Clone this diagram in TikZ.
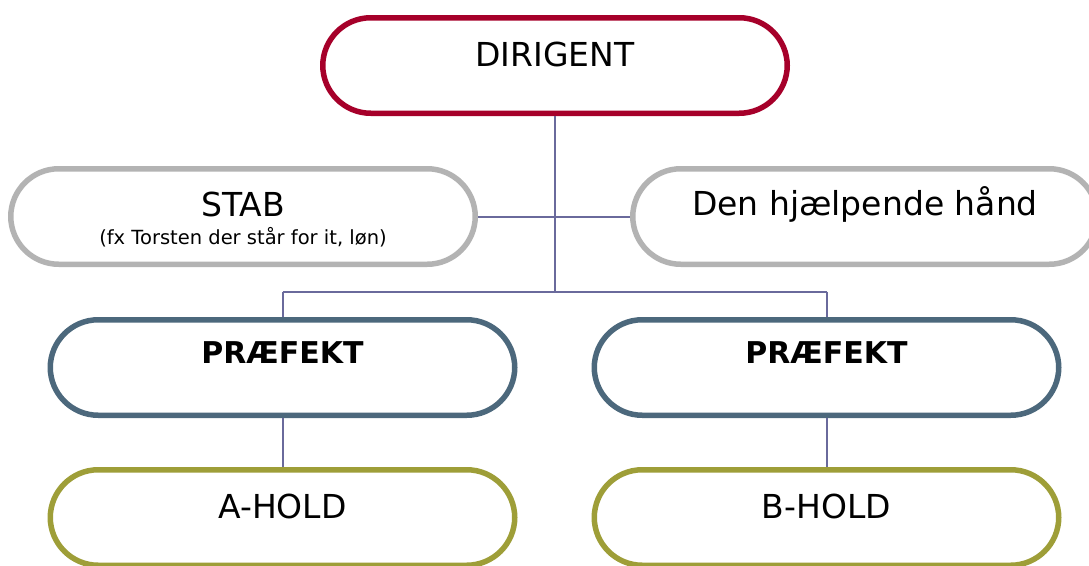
\documentclass[tikz,border=0pt]{standalone}
\usepackage{fontspec}
\setmainfont{DejaVu Sans}
\usepackage{tikz}
\usetikzlibrary{positioning}
\definecolor{dirred}{HTML}{A6002A}
\definecolor{stabgray}{HTML}{B3B3B3}
\definecolor{prefblue}{HTML}{4C687C}
\definecolor{holdolive}{HTML}{9E9E38}
\definecolor{linkpurple}{HTML}{6A6A9C}
\tikzset{
  box/.style={draw,fill=white,line width=5.5pt,rounded corners=48pt,
    minimum width=464.5pt,minimum height=95.5pt,inner sep=0pt},
  big/.style={font=\fontsize{33}{38}\selectfont,inner sep=0pt},
  bold/.style={font=\fontsize{30}{35}\selectfont\bfseries,inner sep=0pt},
  small/.style={font=\fontsize{19.5}{22}\selectfont,inner sep=0pt},
  link/.style={draw=linkpurple,line width=2pt}
}
\begin{document}
\begin{tikzpicture}[x=1pt,y=-1pt]
        \useasboundingbox (0,0) rectangle (1089,565);
        \clip (0,0) rectangle (1089,565);

        \node[box,draw=dirred] (dir) at (555,65.5) {};
        \node[box,draw=stabgray] (stab) at (243,216.5) {};
        \node[box,draw=stabgray] (help) at (865,216.5) {};
        \node[box,draw=prefblue] (pl) at (282.5,367.5) {};
        \node[box,draw=prefblue] (pr) at (826.5,367.5) {};
        \node[box,draw=holdolive] (ah) at (282.5,517.5) {};
        \node[box,draw=holdolive] (bh) at (826.5,517.5) {};
        \coordinate (bus) at (555,291.5);

        \node[big] (dirtext) at (555,54) {DIRIGENT};
        \node[big] (stabtext) at (243,204) {STAB};
        \node[small] (stabsub) at (243,237) {(fx Torsten der står for it, løn)};
        \node[big] (helptext) at (865,204) {Den hjælpende hånd};
        \node[bold] (pltext) at (282.5,353) {PRÆFEKT};
        \node[bold] (prtext) at (826.5,353) {PRÆFEKT};
        \node[big] (ahtext) at (282.5,506.5) {A-HOLD};
        \node[big] (bhtext) at (826.5,506.5) {B-HOLD};

        \draw[link] (dir) -- (bus);
        \draw[link] (stab) -- (help);
        \draw[link] (pl |- bus) -- (pr |- bus);
        \draw[link] (pl |- bus) -- (pl);
        \draw[link] (pr |- bus) -- (pr);
        \draw[link] (pl) -- (ah);
        \draw[link] (pr) -- (bh);
\end{tikzpicture}
\end{document}
